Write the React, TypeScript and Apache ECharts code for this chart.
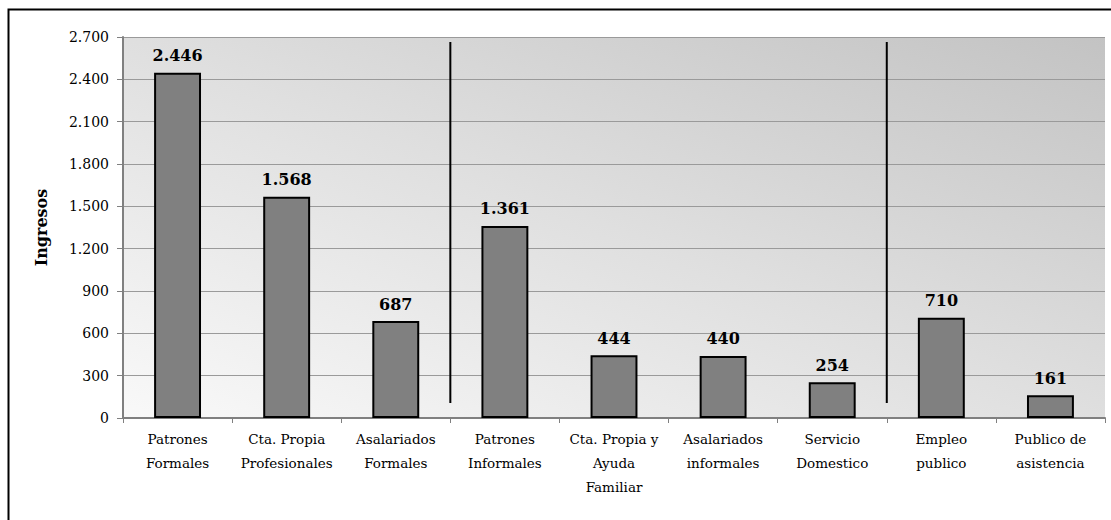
import React, { useEffect, useRef } from "react";
import * as echarts from "echarts";

const categories = [
  "Patrones\nFormales",
  "Cta. Propia\nProfesionales",
  "Asalariados\nFormales",
  "Patrones\nInformales",
  "Cta. Propia y\nAyuda\nFamiliar",
  "Asalariados\ninformales",
  "Servicio\nDomestico",
  "Empleo\npublico",
  "Publico de\nasistencia",
];
const ingresos = [2446, 1568, 687, 1361, 444, 440, 254, 710, 161];
const separatorPositions = [2.5, 6.5];
const separatorRange = [106, 2664];
const yMax = 2700;
const yInterval = 300;

const fmt = (v: number) => String(Math.round(v)).replace(/\B(?=(\d{3})+(?!\d))/g, ".");

const SERIF = "DejaVu Serif";

export default function App() {
  const ref = useRef<HTMLDivElement>(null);
  useEffect(() => {
    if (!ref.current) return;
    const chart = echarts.init(ref.current, null, { renderer: "svg" });
    const sepSeries = separatorPositions.map((p) => ({
      type: "line",
      xAxisIndex: 1,
      yAxisIndex: 0,
      data: [
        [p, separatorRange[0]],
        [p, separatorRange[1]],
      ],
      symbol: "none",
      silent: true,
      lineStyle: { color: "#000", width: 2 },
      z: 5,
    }));
    chart.setOption({
      animation: false,
      backgroundColor: "#fff",
      textStyle: { fontFamily: SERIF },
      graphic: [
        {
          type: "rect",
          left: 6,
          top: 7,
          shape: { width: 1130, height: 530 },
          style: { fill: "none", stroke: "#000", lineWidth: 2 },
          silent: true,
          z: 100,
        },
      ],
      grid: {
        left: 123,
        top: 37,
        right: 6,
        bottom: 102,
        show: true,
        borderWidth: 0,
        backgroundColor: new echarts.graphic.LinearGradient(0, 1, 1, 0, [
          { offset: 0, color: "#f9f9f9" },
          { offset: 0.5, color: "#dfdfdf" },
          { offset: 1, color: "#c3c3c3" },
        ]),
      },
      xAxis: [
        {
          type: "category",
          data: categories,
          axisLine: { show: true, lineStyle: { color: "#808080", width: 2 } },
          axisTick: { show: true, length: 5, lineStyle: { color: "#808080" } },
          axisLabel: {
            interval: 0,
            color: "#000",
            fontFamily: SERIF,
            fontSize: 13.5,
            lineHeight: 24,
            margin: 9,
          },
        },
        {
          type: "value",
          min: -0.5,
          max: 8.5,
          show: false,
        },
      ],
      yAxis: {
        type: "value",
        min: 0,
        max: yMax,
        interval: yInterval,
        name: "Ingresos",
        nameLocation: "middle",
        nameGap: 74,
        nameTextStyle: { fontFamily: SERIF, fontSize: 16, fontWeight: "bold", color: "#000" },
        axisLine: { show: true, onZero: false, lineStyle: { color: "#808080", width: 2 } },
        axisTick: { show: true, length: 6, lineStyle: { color: "#808080" } },
        splitLine: { show: true, lineStyle: { color: "#9a9a9a", width: 1 } },
        axisLabel: {
          color: "#000",
          fontFamily: SERIF,
          fontSize: 14,
          margin: 14,
          formatter: (v: number) => fmt(v),
        },
      },
      series: [
        {
          type: "bar",
          data: ingresos,
          barWidth: "43%",
          itemStyle: { color: "#808080", borderColor: "#000", borderWidth: 2 },
          label: {
            show: true,
            position: "top",
            distance: 9,
            color: "#000",
            fontFamily: SERIF,
            fontWeight: "bold",
            fontSize: 16,
            formatter: (p: any) => fmt(p.value),
          },
          z: 3,
        },
        ...sepSeries,
      ],
    });
    return () => chart.dispose();
  }, []);
  return (
    <div
      ref={ref}
      style={{ position: "fixed", left: 0, top: 0, width: 1111, height: 520 }}
    />
  );
}
